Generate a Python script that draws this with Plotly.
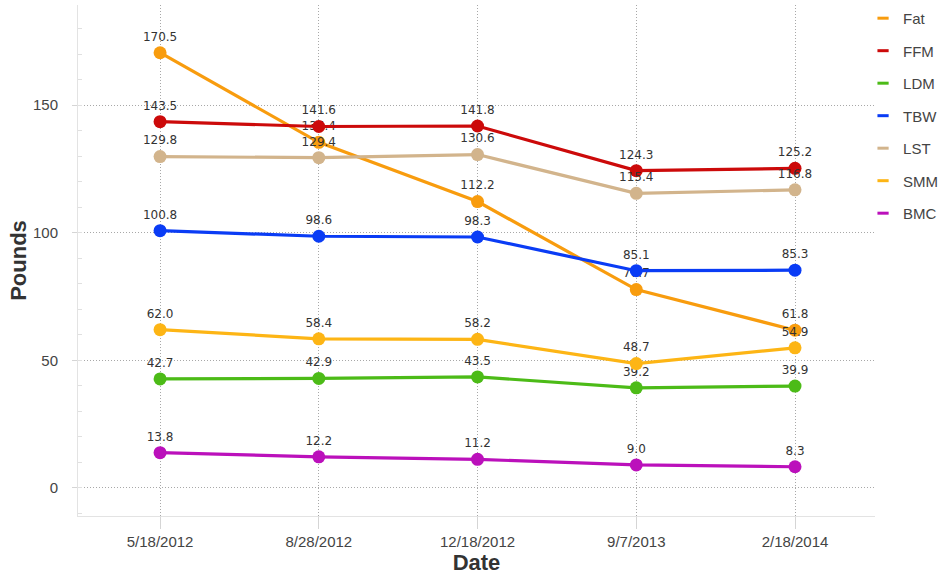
import plotly.graph_objects as go

dates = ["5/18/2012", "8/28/2012", "12/18/2012", "9/7/2013", "2/18/2014"]

fat = [170.5, 135.4, 112.2, 77.7, 61.8]
ffm = [143.5, 141.6, 141.8, 124.3, 125.2]
ldm = [42.7, 42.9, 43.5, 39.2, 39.9]
tbw = [100.8, 98.6, 98.3, 85.1, 85.3]
lst = [129.8, 129.4, 130.6, 115.4, 116.8]
smm = [62.0, 58.4, 58.2, 48.7, 54.9]
bmc = [13.8, 12.2, 11.2, 9.0, 8.3]

series_names = ["Fat", "FFM", "LDM", "TBW", "LST", "SMM", "BMC"]
series_values = [fat, ffm, ldm, tbw, lst, smm, bmc]
colors = ["#F89C0E", "#CC0A0A", "#4CBB17", "#0A3CF5", "#D2B48C", "#FDB515", "#BB10BB"]

fig = go.Figure()

for name, vals, col in zip(series_names, series_values, colors):
    fig.add_trace(go.Scatter(
        x=dates, y=vals, mode="lines+markers+text", name=name,
        line=dict(color=col, width=3.2),
        marker=dict(color=col, size=13),
        text=[f"{v:.1f}" for v in vals],
        textposition="top center",
        textfont=dict(family="DejaVu Sans", size=12, color="#333333"),
        showlegend=False, cliponaxis=False,
    ))

for i, (name, col) in enumerate(zip(series_names, colors)):
    fig.add_trace(go.Scatter(
        x=[None], y=[None], mode="markers", name=name,
        marker=dict(symbol="line-ew", size=8, color=col, line=dict(color=col, width=3)),
        legendgroup=f"g{i}", showlegend=True,
    ))

grid = "#a8a8a8"
fig.update_layout(
    width=942, height=578,
    margin=dict(l=78, r=67, t=5, b=62, autoexpand=False),
    paper_bgcolor="white", plot_bgcolor="white",
    font=dict(family="Liberation Sans, Arial", color="#444444", size=15),
    legend=dict(
        x=0.985, xanchor="left", y=1.006, yanchor="top",
        font=dict(size=15, color="#444444"),
        tracegroupgap=10, bgcolor="rgba(0,0,0,0)",
    ),
    xaxis=dict(
        type="category", range=[-0.517, 4.504],
        showgrid=True, gridcolor=grid, griddash="1px,2px", gridwidth=1,
        showline=True, linecolor="#e3e3e3", linewidth=1,
        ticks="outside", ticklen=12, tickcolor="#d5d5d5",
        tickfont=dict(size=15, color="#444444"),
        title=dict(text="<b>Date</b>", font=dict(size=22, color="#333333"), standoff=5),
        zeroline=False,
    ),
    yaxis=dict(
        range=[-11, 189.2],
        tickvals=[0, 50, 100, 150],
        showgrid=True, gridcolor=grid, griddash="1px,2px", gridwidth=1,
        showline=True, linecolor="#e3e3e3", linewidth=1,
        ticks="outside", ticklen=5, tickcolor="#d5d5d5",
        ticklabelstandoff=11,
        minor=dict(dtick=10, tick0=0, ticks="inside", ticklen=4, tickcolor="#e0e0e0", showgrid=False),
        tickfont=dict(size=15, color="#444444"),
        title=dict(text="<b>Pounds</b>", font=dict(size=22, color="#333333"), standoff=0),
        zeroline=False,
    ),
)

fig.write_html("out.html")
